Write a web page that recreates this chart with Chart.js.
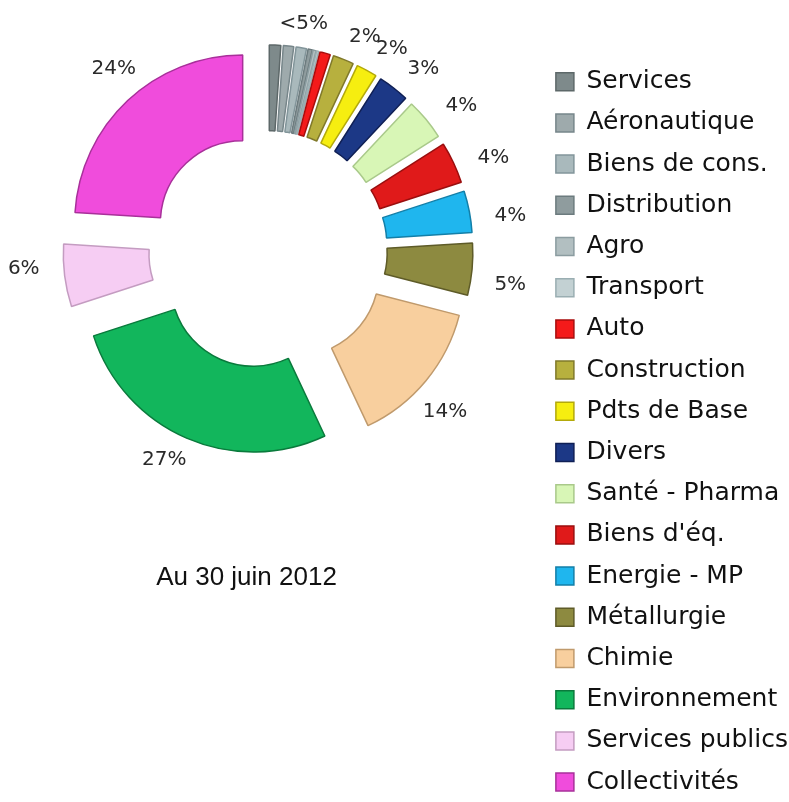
<!DOCTYPE html>
<html>
<head>
<meta charset="utf-8">
<script src="https://cdn.jsdelivr.net/npm/chart.js@4.4.1/dist/chart.umd.min.js"></script>
<style>
  body { margin: 0; background: #fff; }
  #wrap { position: relative; width: 789px; height: 802px; }
  #date {
    position: absolute; left: 0; width: 493px; top: 561px;
    text-align: center; color: #111;
    font: 26px "Liberation Sans", Arial, sans-serif;
  }
</style>
</head>
<body>
<div id="wrap">
  <canvas id="sectorChart" width="789" height="802"></canvas>
  <div id="date">Au 30 juin 2012</div>
</div>
<script>
// sectors, clockwise from 12 o'clock (same order as the legend)
const sectors = ['Services', 'Aéronautique', 'Biens de cons.', 'Distribution', 'Agro', 'Transport',
    'Auto', 'Construction', 'Pdts de Base', 'Divers', 'Santé - Pharma', "Biens d'éq.",
    'Energie - MP', 'Métallurgie', 'Chimie', 'Environnement', 'Services publics', 'Collectivités'];
const shares = [1.1, 1.0, 1.0, 0.4, 0.3, 0.2, 1.0, 2, 2, 3, 4, 4, 4, 5, 14, 27, 6, 24];
// '' = merged into the next printed label
const pctText = ['', '', '', '', '', '', '<5%', '2%', '2%', '3%', '4%', '4%', '4%', '5%', '14%', '27%', '6%', '24%'];

const sliceColors = ['#7e8a8b', '#9eaaac', '#a9b9bc', '#8f9c9e', '#b2bfc1', '#c3d1d3',
    '#f41a1a', '#b7b03e', '#f6ee10', '#1c3886', '#d8f6b6', '#e01a1a',
    '#1fb6ee', '#8d8a40', '#f8cf9e', '#12b65c', '#f6cdf3', '#f04cdc'];
const edgeColors = ['#5d6869', '#77868a', '#82959a', '#6c7b7e', '#8b9ca0', '#9aaeb2',
    '#a80d0d', '#80792a', '#b3a90a', '#0f1f55', '#a9c98a', '#9a0e0e',
    '#137fa8', '#5e5b28', '#c09a6c', '#0a7a3c', '#c49cc1', '#a8309a'];

const pull = 37;         // every slice is pulled out by this much, px
const labelTurn = 0.05;

const placeRing = {
    id: 'placeRing',
    afterLayout(chart) {
        const a = chart.chartArea;
        a.left = 68; a.right = 468; a.top = 50; a.bottom = 450;
        a.width = 400; a.height = 400;
    }
};

// pull each slice straight out along its middle angle (plain translation)
const explode = {
    id: 'explode',
    beforeDatasetsDraw(chart) {
        const a = chart.chartArea;
        const cx = (a.left + a.right) / 2, cy = (a.top + a.bottom) / 2;
        chart.getDatasetMeta(0).data.forEach(arc => {
            const mid = (arc.startAngle + arc.endAngle) / 2;
            arc.x = cx + Math.cos(mid) * pull;
            arc.y = cy + Math.sin(mid) * pull;
        });
    }
};

const pctLabels = {
    id: 'pctLabels',
    afterDatasetsDraw(chart) {
        const a = chart.chartArea;
        const cx = (a.left + a.right) / 2, cy = (a.top + a.bottom) / 2;
        const arcs = chart.getDatasetMeta(0).data;
        const ctx = chart.ctx;
        ctx.save();
        ctx.font = '20px "DejaVu Sans"';
        ctx.fillStyle = '#2a2a2a';
        ctx.textAlign = 'center';
        ctx.textBaseline = 'middle';
        let from = 0;
        for (let i = 0; i < pctText.length; i++) {
            if (!pctText[i]) continue;
            const turn = from === i ? labelTurn : 0;
            const mid = (arcs[from].startAngle + arcs[i].endAngle) / 2 + turn;
            const r = 226 + 19 * Math.abs(Math.cos(mid));
            ctx.fillText(pctText[i], cx + Math.cos(mid) * r, cy + Math.sin(mid) * r);
            from = i + 1;
        }
        ctx.restore();
    }
};

const ctx = document.getElementById('sectorChart').getContext('2d');
new Chart(ctx, {
    type: 'doughnut',
    data: {
        labels: sectors,
        datasets: [{
            data: shares,
            backgroundColor: sliceColors,
            borderColor: edgeColors,
            borderWidth: 1.5,
            clip: false
        }]
    },
    options: {
        responsive: false,
        animation: false,
        radius: 168,
        cutout: '49%',
        layout: { padding: { top: 53, bottom: -12, right: -9 } },
        plugins: {
            legend: {
                position: 'right',
                align: 'start',
                labels: {
                    boxWidth: 18,
                    boxHeight: 18,
                    padding: 16.2,
                    color: '#111',
                    font: { family: 'DejaVu Sans', size: 25 }
                }
            },
            tooltip: { enabled: false }
        }
    },
    plugins: [placeRing, explode, pctLabels]
});
</script>
</body>
</html>
